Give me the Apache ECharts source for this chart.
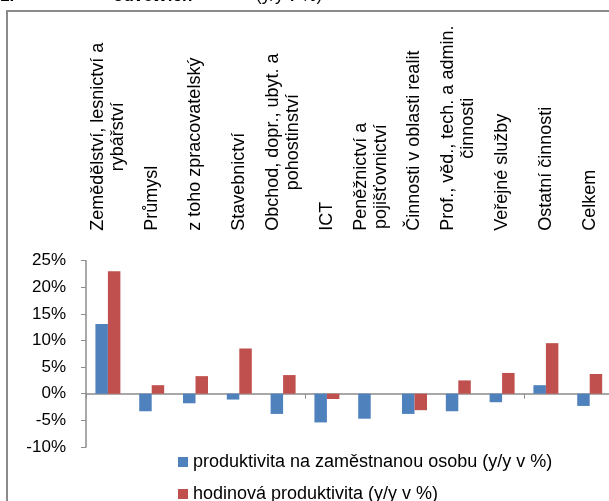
<!DOCTYPE html>
<html><head><meta charset="utf-8">
<script src="https://cdn.jsdelivr.net/npm/echarts@6/dist/echarts.min.js"></script>
<style>html,body{margin:0;padding:0;overflow:hidden;background:#fff;height:501px}#c{width:620px;height:540px}</style>
</head><body><div id="c"></div>
<script>
var categories = [
  'Zemědělství, lesnictví a\nrybářství',
  'Průmysl',
  'z toho zpracovatelský',
  'Stavebnictví',
  'Obchod, dopr., ubyt. a\npohostinství',
  'ICT',
  'Peněžnictví a\npojišťovnictví',
  'Činnosti v oblasti realit',
  'Prof., věd., tech. a admin.\nčinnosti',
  'Veřejné služby',
  'Ostatní činnosti',
  'Celkem'
];
var seriesNames = ['produktivita na zaměstnanou osobu (y/y v %)', 'hodinová produktivita (y/y v %)'];
var perPerson = [13.1, -3.3, -1.8, -1.1, -3.8, -5.4, -4.7, -3.8, -3.3, -1.6, 1.6, -2.3];
var perHour   = [23.0, 1.6, 3.3, 8.5, 3.5, -1.0, 0.0, -3.1, 2.5, 3.9, 9.5, 3.7];
var yMin = -10, yMax = 25, yStep = 5;

var chart = echarts.init(document.getElementById('c'), null, {renderer: 'canvas'});
var font = 'Liberation Sans, Arial, sans-serif';
var axisGray = '#8c8c8c';
chart.setOption({
  animation: false,
  textStyle: {fontFamily: font},
  graphic: [
    {type: 'rect', shape: {x: 7, y: 11, width: 700, height: 600}, style: {fill: 'none', stroke: '#8a8a8a', lineWidth: 2}, silent: true},
    {type: 'text', x: 0, y: 4.5, style: {text: '1.', font: 'bold 17px ' + font, fill: '#000', verticalAlign: 'bottom'}},
    {type: 'text', x: 113, y: 4.5, style: {text: 'odvětvích', font: 'bold 17px ' + font, fill: '#000', verticalAlign: 'bottom'}},
    {type: 'text', x: 256, y: 4.5, style: {text: '(y/y v %)', font: '17px ' + font, fill: '#000', verticalAlign: 'bottom'}}
  ],
  legend: {
    orient: 'vertical', left: 173, top: 448, itemWidth: 10, itemHeight: 10, itemGap: 14,
    icon: 'rect',
    textStyle: {fontSize: 18, color: '#000', fontFamily: font},
    data: seriesNames
  },
  grid: {left: 86, right: 8.4, top: 260.7, height: 186.2, containLabel: false},
  xAxis: [
    {type: 'category', data: categories, position: 'bottom',
     axisLine: {onZero: true, lineStyle: {color: axisGray, width: 1.5}},
     axisTick: {show: true, length: 5, lineStyle: {color: axisGray}},
     axisLabel: {show: false}},
    {type: 'category', data: categories, position: 'top',
     axisLine: {show: false, onZero: false}, axisTick: {show: false},
     axisLabel: {show: true, interval: 0, rotate: -90, margin: 30, color: '#000', fontSize: 18, lineHeight: 20,
       formatter: function (v) { return v.split('\n').map(function (s) { return '{c|' + s + '}'; }).join('\n'); },
       rich: {c: {align: 'center', fontSize: 18, lineHeight: 20, color: '#000', fontFamily: font}}}}
  ],
  yAxis: {
    type: 'value', min: yMin, max: yMax, interval: yStep,
    splitLine: {show: false},
    axisLine: {show: true, lineStyle: {color: axisGray, width: 1.5}},
    axisTick: {show: true, length: 5, lineStyle: {color: axisGray}},
    axisLabel: {margin: 20, color: '#000', fontSize: 17, formatter: function (v) { return v + '%'; }}
  },
  series: [
    {name: seriesNames[0], type: 'bar', xAxisIndex: 0, data: perPerson, barGap: '0%', barCategoryGap: '43%',
     itemStyle: {color: '#4F81BD'}},
    {name: seriesNames[1], type: 'bar', xAxisIndex: 0, data: perHour, barGap: '0%', barCategoryGap: '43%',
     itemStyle: {color: '#C0504D'}}
  ]
});
</script></body></html>
